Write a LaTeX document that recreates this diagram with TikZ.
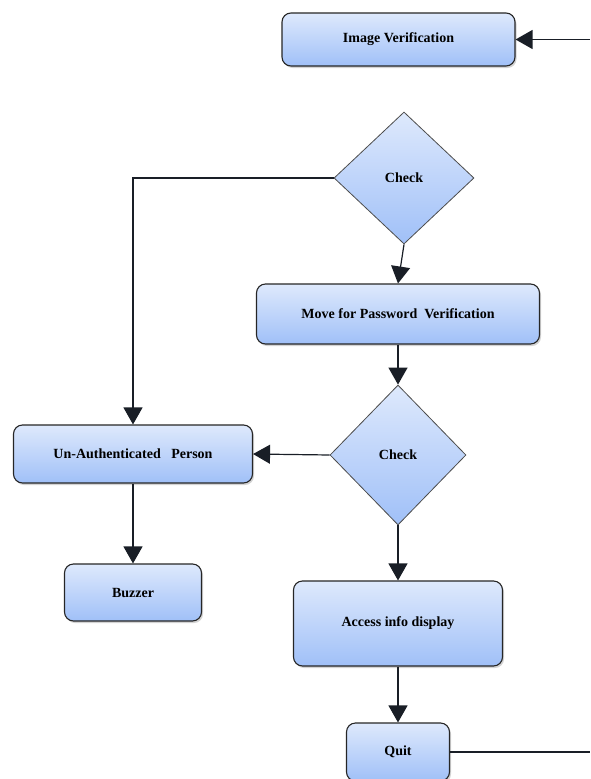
\documentclass[tikz,border=0pt]{standalone}
\usepackage{fontspec}
\setmainfont{Liberation Serif}
\usetikzlibrary{arrows.meta,shapes.geometric,shadows}
\definecolor{filltop}{RGB}{222,233,252}
\definecolor{fillbot}{RGB}{160,192,248}
\definecolor{linec}{RGB}{25,30,38}
\tikzset{
  boxstyle/.style={draw=black!85, line width=1.1pt, rounded corners=9pt,
    top color=filltop, bottom color=fillbot,
    drop shadow={shadow xshift=1.5pt, shadow yshift=-2pt, opacity=0.35},
    font=\bfseries\fontsize{14}{16}\selectfont, text=black, inner sep=0pt},
  decstyle/.style={diamond, draw=black!70, line width=0.8pt,
    top color=filltop, bottom color=fillbot,
    font=\bfseries\fontsize{14}{16}\selectfont, inner sep=0pt, aspect=1},
  conn/.style={draw=linec, line width=1.2pt,
    -{Triangle[width=19pt,length=17pt]}},
  plain/.style={draw=linec, line width=1.2pt}
}
\begin{document}
\begin{tikzpicture}[x=1pt,y=-1pt]
\useasboundingbox (0,0) rectangle (590,779);
\node[boxstyle, minimum width=233pt, minimum height=53pt] (img) at (398.5,39.5) {Image Verification};
\node[decstyle, minimum width=140pt, minimum height=132pt] (chk1) at (404,178) {Check};
\node[boxstyle, minimum width=283pt, minimum height=60pt] (move) at (398,314) {Move for Password\ \ Verification};
\node[decstyle, minimum width=136pt, minimum height=140pt] (chk2) at (398,455) {Check};
\node[boxstyle, minimum width=239pt, minimum height=58pt] (unauth) at (133,454) {Un-Authenticated\ \ \ Person};
\node[boxstyle, minimum width=137pt, minimum height=57pt] (buzz) at (133,592.5) {Buzzer};
\node[boxstyle, minimum width=209pt, minimum height=85pt] (acc) at (398,623.5) {Access info display};
\node[boxstyle, minimum width=103pt, minimum height=58pt] (quit) at (398,752) {Quit};
\coordinate (inR) at (590,39.5);
\coordinate (outR) at (590,752);
\coordinate (bend) at (133,178);
\draw[conn] (inR) -- (img.east);
\draw[conn] (chk1.south) -- (move.north);
\draw[conn] (chk1.west) -- (bend) -- (unauth.north);
\draw[conn] (move.south) -- (chk2.north);
\draw[conn] (chk2.west) -- (unauth.east);
\draw[conn] (unauth.south) -- (buzz.north);
\draw[conn] (chk2.south) -- (acc.north);
\draw[conn] (acc.south) -- (quit.north);
\draw[plain] (quit.east) -- (outR);
\end{tikzpicture}
\end{document}
